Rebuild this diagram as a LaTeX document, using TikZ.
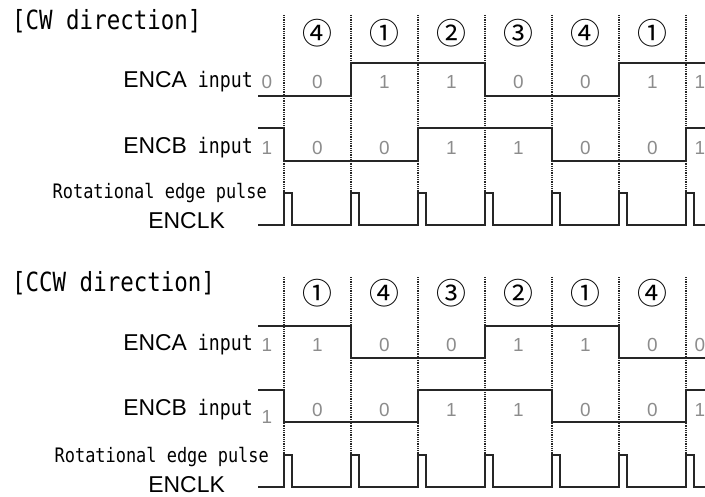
\documentclass[tikz,border=0pt]{standalone}
\usepackage{fontspec}
\setmainfont{Liberation Sans}
\newfontfamily\gothic[FakeStretch=0.85]{DejaVu Sans Mono}
\newfontfamily\circfont{Noto Sans CJK JP}
\usetikzlibrary{positioning}
\newcommand\circnum[1]{\ifcase#1\or ①\or ②\or ③\or ④\fi}

\begin{document}
\begin{tikzpicture}[
    x=1bp, y=-1bp,
    sig/.style={line width=1.8bp, draw=black!85, line join=miter},
    gridline/.style={dash pattern=on 1bp off 0.8bp, line width=1.1bp, draw=black!85},
    val/.style={inner sep=0pt, text=black!45, font=\fontsize{19}{19}\selectfont},
    num/.style={inner sep=0pt, font=\circfont\fontsize{30}{30}\selectfont},
    lbl/.style={anchor=east, inner sep=0pt, font=\fontsize{23}{23}\selectfont},
    title/.style={anchor=west, inner sep=0pt, font=\gothic\fontsize{26.5}{26.5}\selectfont},
    rot/.style={anchor=east, inner sep=0pt, font=\gothic\fontsize{20}{20}\selectfont},
]
\useasboundingbox (0,0) rectangle (705,497);
% CW direction
\begin{scope}
  \node[title] (cwtitle) at (12,21) {[CW direction]};
  \foreach \k in {0,...,6} \draw[gridline] (284+67*\k,15) -- (284+67*\k,225);
  \foreach \n [count=\k from 0] in {4,1,2,3,4,1}
     \node[num] (cwn\k) at (317.5+67*\k,33) {\circnum{\n}};
  % labels
  \node[lbl] (cwa) at (253,82) {ENCA{\gothic\fontsize{21.5}{21.5}\selectfont\ input}};
  \node[lbl] (cwb) at (253,148) {ENCB{\gothic\fontsize{21.5}{21.5}\selectfont\ input}};
  \node[rot] (cwrot) at (267,193) {Rotational edge pulse};
  \node[lbl] (cwclk) at (225,221) {ENCLK};
  % levels
  \node[val] at (267,82) {0};
  \node[val] at (700,82) {1};
  \foreach \v [count=\k from 0] in {0,1,1,0,0,1}
     \node[val] at (317.5+67*\k,82) {\v};
  \node[val] at (267,148) {1};
  \node[val] at (700,148) {1};
  \foreach \v [count=\k from 0] in {0,0,1,1,0,0}
     \node[val] at (317.5+67*\k,148) {\v};
  % waveforms
  \draw[sig] (258,96) -- (351,96) -- (351,63) -- (485,63) -- (485,96)
     -- (619,96) -- (619,63) -- (705,63);
  \draw[sig] (258,128) -- (284,128) -- (284,161) -- (418,161) -- (418,128)
     -- (552,128) -- (552,161) -- (686,161) -- (686,128) -- (705,128);
  \draw[sig] (258,225) \foreach \k in {0,...,6} {
     -- (284+67*\k,225) -- (284+67*\k,193) -- (292+67*\k,193) -- (292+67*\k,225)}
     -- (705,225);
\end{scope}
% CCW direction
\begin{scope}[shift={(0,263)}]
  \node[title] (ccwtitle) at (12,20) {[CCW direction]};
  \foreach \k in {0,...,6} \draw[gridline] (284+67*\k,14) -- (284+67*\k,224);
  \foreach \n [count=\k from 0] in {1,4,3,2,1,4}
     \node[num] (ccwn\k) at (317.5+67*\k,30) {\circnum{\n}};
  % labels
  \node[lbl] (ccwa) at (253,82) {ENCA{\gothic\fontsize{21.5}{21.5}\selectfont\ input}};
  \node[lbl] (ccwb) at (253,147) {ENCB{\gothic\fontsize{21.5}{21.5}\selectfont\ input}};
  \node[rot] (ccwrot) at (269,194) {Rotational edge pulse};
  \node[lbl] (ccwclk) at (225,222) {ENCLK};
  % levels
  \node[val] at (267,82) {1};
  \node[val] at (700,82) {0};
  \foreach \v [count=\k from 0] in {1,0,0,1,1,0}
     \node[val] at (317.5+67*\k,82) {\v};
  \node[val] at (267,154) {1};
  \node[val] at (700,147) {1};
  \foreach \v [count=\k from 0] in {0,0,1,1,0,0}
     \node[val] at (317.5+67*\k,147) {\v};
  % waveforms
  \draw[sig] (258,63) -- (351,63) -- (351,95) -- (485,95) -- (485,63)
     -- (619,63) -- (619,95) -- (705,95);
  \draw[sig] (258,127) -- (284,127) -- (284,159) -- (418,159) -- (418,127)
     -- (552,127) -- (552,159) -- (686,159) -- (686,127) -- (705,127);
  \draw[sig] (258,224) \foreach \k in {0,...,6} {
     -- (284+67*\k,224) -- (284+67*\k,192) -- (292+67*\k,192) -- (292+67*\k,224)}
     -- (705,224);
\end{scope}
\end{tikzpicture}
\end{document}
